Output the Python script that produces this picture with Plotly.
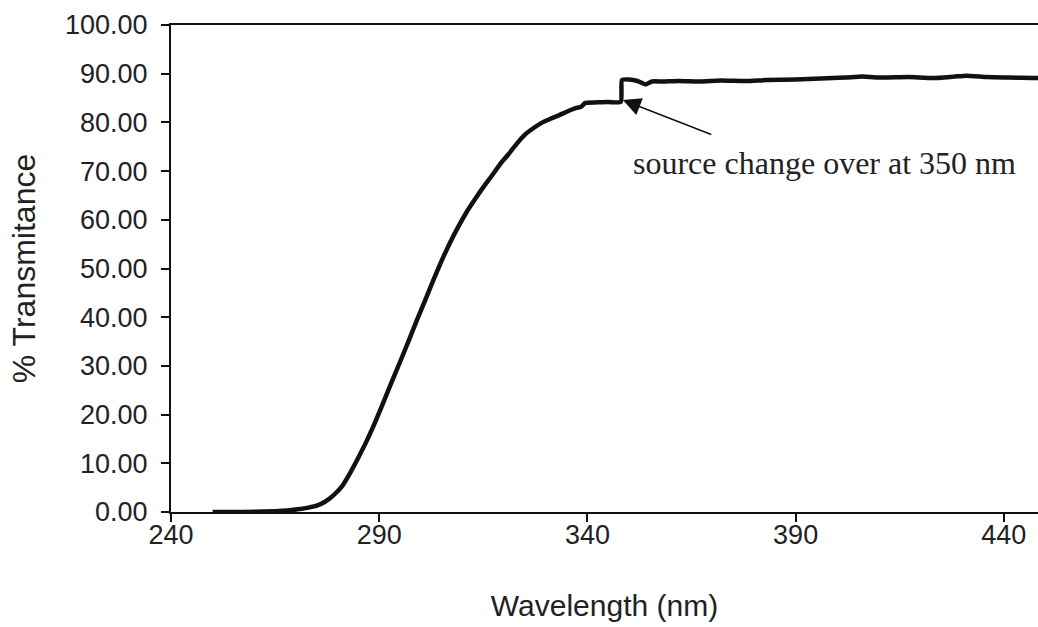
import plotly.graph_objects as go

# Transmittance spectrum (wavelength in nm, % transmittance)
wavelength = [250, 255, 260, 265, 268, 271, 273, 275, 277, 279, 281, 283, 285, 287, 289,
              291, 293, 295, 297, 299, 301, 303, 305, 307, 309, 311, 313, 315, 317, 319,
              321, 323, 325, 327, 329, 331, 333, 335, 337, 338.5, 339.5, 342, 345, 348,
              348.3, 350, 352, 354, 355.5, 358, 362, 367, 372, 378, 383, 390, 396, 402,
              406, 411, 417, 423, 428, 431, 436, 441, 447, 448.2]
transmittance = [0.0, 0.0, 0.05, 0.15, 0.3, 0.6, 0.9, 1.3, 2.1, 3.4, 5.2, 8.0, 11.2, 14.6, 18.4,
                 22.5, 26.7, 30.8, 35.0, 39.3, 43.4, 47.6, 51.6, 55.3, 58.6, 61.6, 64.2, 66.7, 69.0, 71.4,
                 73.4, 75.6, 77.5, 78.8, 79.9, 80.7, 81.4, 82.2, 82.9, 83.2, 84.0, 84.1, 84.2, 84.2,
                 88.7, 88.8, 88.5, 87.8, 88.4, 88.4, 88.5, 88.4, 88.6, 88.5, 88.7, 88.8, 89.0, 89.2,
                 89.4, 89.2, 89.3, 89.1, 89.4, 89.6, 89.3, 89.2, 89.1, 89.1]

x_ticks = [240, 290, 340, 390, 440]
y_ticks = [0, 10, 20, 30, 40, 50, 60, 70, 80, 90, 100]

note_text = "source change over at 350 nm"
arrow_head = (348.5, 84.6)
arrow_tail = (370.1, 77.4)
note_pos = (397.0, 71.7)

fig = go.Figure()
fig.add_trace(go.Scatter(
    x=wavelength, y=transmittance, mode="lines",
    line=dict(color="#111111", width=4.5, shape="spline", smoothing=0.5),
    showlegend=False, hoverinfo="skip",
))

fig.add_annotation(
    x=arrow_head[0], y=arrow_head[1], ax=arrow_tail[0], ay=arrow_tail[1],
    xref="x", yref="y", axref="x", ayref="y", text="",
    showarrow=True, arrowhead=2, arrowsize=2.4, arrowwidth=1.5, arrowcolor="#111111",
)
fig.add_annotation(
    x=note_pos[0], y=note_pos[1], xref="x", yref="y", text=note_text,
    showarrow=False, font=dict(family="Liberation Serif", size=32, color="#222222"),
)

axis_font = dict(family="Liberation Sans, Arial", size=27, color="#222222")

fig.update_xaxes(
    range=[240, 448.2], tickvals=x_ticks, ticktext=[str(v) for v in x_ticks],
    showgrid=False, zeroline=False, showline=True, linecolor="#111111", linewidth=2,
    mirror=True, ticks="outside", ticklen=8, tickwidth=2, tickcolor="#111111",
    tickfont=axis_font, ticklabelstandoff=-10, automargin=False,
    title=dict(text="Wavelength (nm)",
               font=dict(family="Liberation Sans, Arial", size=30, color="#222222"),
               standoff=46),
)
fig.update_yaxes(
    range=[0, 100], tickvals=y_ticks, tickformat=".2f",
    showgrid=False, zeroline=False, showline=True, linecolor="#111111", linewidth=2,
    ticks="outside", ticklen=8, tickwidth=2, tickcolor="#111111",
    tickfont=axis_font, ticklabelstandoff=8, automargin=False,
    title=dict(text="% Transmitance",
               font=dict(family="Liberation Sans, Arial", size=32, color="#222222"),
               standoff=20),
)

fig.update_layout(
    width=1038, height=627,
    margin=dict(l=171, r=0, t=25, b=115),
    plot_bgcolor="white", paper_bgcolor="white",
)

fig.write_html("out.html")
